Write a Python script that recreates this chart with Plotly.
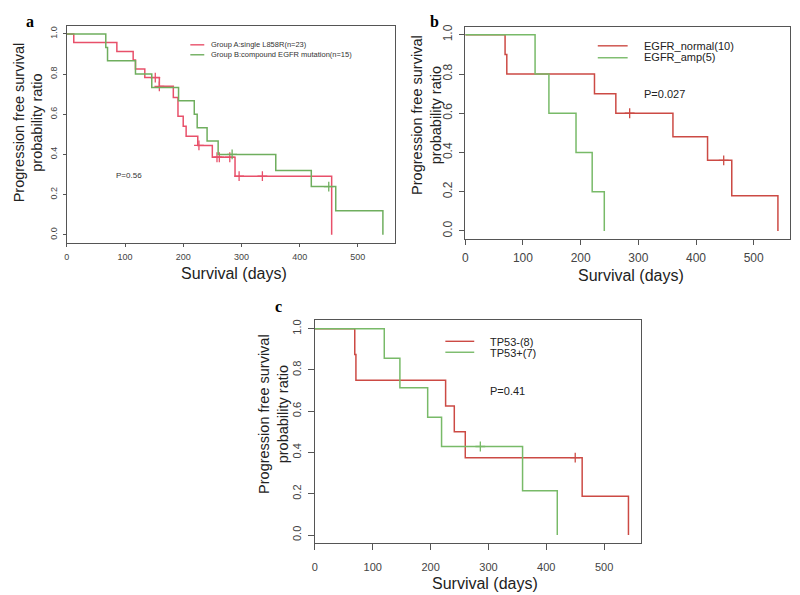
import plotly.graph_objects as go

# ---------------- data ----------------
x_ticks = [0, 100, 200, 300, 400, 500]
y_ticks = [0.0, 0.2, 0.4, 0.6, 0.8, 1.0]
y_ticktext = ["0.0", "0.2", "0.4", "0.6", "0.8", "1.0"]

# panel a
a_red_name = "Group A:single L858R(n=23)"
a_red_t = [0, 12, 86, 114, 118, 134, 159, 183, 191, 200, 205, 225, 250, 289, 455]
a_red_s = [1.0, 0.957, 0.913, 0.87, 0.826, 0.783, 0.739, 0.683, 0.59, 0.54, 0.49, 0.445, 0.386, 0.292, 0.0]
a_red_cens_t = [152, 159, 227, 258, 262, 280, 296, 336]
a_red_cens_s = [0.783, 0.739, 0.445, 0.386, 0.386, 0.386, 0.292, 0.292]

a_grn_name = "Group B:compound EGFR mutation(n=15)"
a_grn_t = [0, 67, 70, 118, 146, 192, 219, 224, 241, 260, 359, 420, 462, 543]
a_grn_s = [1.0, 0.933, 0.867, 0.80, 0.733, 0.667, 0.60, 0.533, 0.467, 0.40, 0.32, 0.24, 0.12, 0.0]
a_grn_cens_t = [284, 450]
a_grn_cens_s = [0.40, 0.24]
a_p = "P=0.56"

# panel b
b_red_name = "EGFR_normal(10)"
b_red_t = [0, 69, 72, 224, 261, 360, 420, 462, 542]
b_red_s = [1.0, 0.9, 0.8, 0.7, 0.6, 0.48, 0.36, 0.18, 0.0]
b_red_cens_t = [285, 448]
b_red_cens_s = [0.6, 0.36]

b_grn_name = "EGFR_amp(5)"
b_grn_t = [0, 121, 145, 192, 220, 241]
b_grn_s = [1.0, 0.8, 0.6, 0.4, 0.2, 0.0]
b_p = "P=0.027"

# panel c
c_red_name = "TP53-(8)"
c_red_t = [0, 69, 71, 226, 241, 260, 462, 542]
c_red_s = [1.0, 0.875, 0.75, 0.625, 0.5, 0.375, 0.1875, 0.0]
c_red_cens_t = [450]
c_red_cens_s = [0.375]

c_grn_name = "TP53+(7)"
c_grn_t = [0, 120, 147, 195, 219, 359, 419]
c_grn_s = [1.0, 0.857, 0.714, 0.571, 0.429, 0.214, 0.0]
c_grn_cens_t = [286]
c_grn_cens_s = [0.429]
c_p = "P=0.41"

x_title = "Survival (days)"
y_title = "Progression free survival<br>probability ratio"

# ---------------- styling ----------------
# the page body has an 8px margin, so the figure is offset by 8px
OFF = 8
W, H = 800 - OFF, 595 - OFF
FONT = "Liberation Sans, Arial, sans-serif"
RED_A, GRN_A = "#e8506a", "#6fae5e"
RED_B, GRN_B = "#cc4a44", "#78ba68"

def px(x):
    return (x - OFF) / W

def py(y):
    return 1 - (y - OFF) / H

fig = go.Figure()

def add_km(t, s, ct, cs, color, xa, ya):
    fig.add_trace(go.Scatter(x=t, y=s, mode="lines", line=dict(color=color, width=1.5, shape="hv"),
                             xaxis=xa, yaxis=ya, showlegend=False, hoverinfo="skip"))
    if ct:
        fig.add_trace(go.Scatter(x=ct, y=cs, mode="markers",
                                 marker=dict(symbol="cross-thin-open", size=7, color=color,
                                             line=dict(color=color, width=1.3)),
                                 xaxis=xa, yaxis=ya, showlegend=False, hoverinfo="skip"))

add_km(a_red_t, a_red_s, a_red_cens_t, a_red_cens_s, RED_A, "x", "y")
add_km(a_grn_t, a_grn_s, a_grn_cens_t, a_grn_cens_s, GRN_A, "x", "y")
add_km(b_red_t, b_red_s, b_red_cens_t, b_red_cens_s, RED_B, "x2", "y2")
add_km(b_grn_t, b_grn_s, [], [], GRN_B, "x2", "y2")
add_km(c_red_t, c_red_s, c_red_cens_t, c_red_cens_s, RED_B, "x3", "y3")
add_km(c_grn_t, c_grn_s, c_grn_cens_t, c_grn_cens_s, GRN_B, "x3", "y3")

# panel boxes (page pixels): left, right, top, bottom
boxes = {
    "a": (64, 393, 23, 241),
    "b": (464, 790, 24, 237),
    "c": (313, 640, 319, 543),
}
tick_sizes = {"a": 9, "b": 12, "c": 11}
tick_lens = {"a": 3, "b": 5, "c": 6}
x_standoff = {"a": 2, "b": 3, "c": 7}
names = {"a": ("xaxis", "yaxis", "y", "x"), "b": ("xaxis2", "yaxis2", "y2", "x2"), "c": ("xaxis3", "yaxis3", "y3", "x3")}

layout_axes = {}
for k, (l, r, t, b) in boxes.items():
    xa, ya, yanchor, xanchor = names[k]
    common = dict(showline=True, mirror=True, linecolor="#555", linewidth=1.2, showgrid=False,
                  zeroline=False, ticks="outside", ticklen=tick_lens[k], tickcolor="#555", tickwidth=1,
                  tickfont=dict(family=FONT, size=tick_sizes[k], color="#444"))
    layout_axes[xa] = dict(common, domain=[px(l), px(r)], range=[0, 563], tickvals=x_ticks,
                           anchor=yanchor, ticklabelstandoff=x_standoff[k])
    layout_axes[ya] = dict(common, domain=[py(b), py(t)], range=[-0.04, 1.04], tickvals=y_ticks,
                           ticktext=y_ticktext, tickangle=-90, anchor=xanchor, ticklabelstandoff=2)

fig.update_layout(**layout_axes)

ann = []
def text(x, y, s, size, xanchor="center", angle=0, family=FONT, color="#222", bold=False):
    ann.append(dict(x=px(x), y=py(y), xref="paper", yref="paper", text=("<b>%s</b>" % s) if bold else s,
                    showarrow=False, xanchor=xanchor, yanchor="middle", textangle=angle,
                    font=dict(family=family, size=size, color=color)))

SERIF = "Liberation Serif, Times New Roman, serif"
# panel labels
text(27, 19, "a", 16, family=SERIF, color="#000", bold=True)
text(433, 19, "b", 16, family=SERIF, color="#000", bold=True)
text(277, 305, "c", 16, family=SERIF, color="#000", bold=True)

# axis titles
text(25, 120, y_title, 14.5, angle=-90)
text(425, 112, y_title, 14.5, angle=-90)
text(272, 413, y_title, 14.5, angle=-90)
text(232, 272, x_title, 16)
text(630, 274, x_title, 16)
text(484, 583, x_title, 16)

# p-values
text(111, 173, a_p, 8, xanchor="left", color="#333")
text(641, 91, b_p, 11, xanchor="left", color="#222")
text(487, 390, c_p, 11, xanchor="left", color="#222")

# legends
shapes = []
def legend_line(x0, x1, y, color):
    shapes.append(dict(type="line", xref="paper", yref="paper", x0=px(x0), x1=px(x1), y0=py(y), y1=py(y),
                       line=dict(color=color, width=1.4)))

legend_line(188, 202, 42, RED_A)
legend_line(188, 202, 52, GRN_A)
text(207, 42, a_red_name, 7.5, xanchor="left", color="#333")
text(207, 52, a_grn_name, 7.5, xanchor="left", color="#333")

legend_line(597, 627, 43, RED_B)
legend_line(597, 627, 55, GRN_B)
text(641, 43, b_red_name, 11, xanchor="left")
text(641, 54, b_grn_name, 11, xanchor="left")

legend_line(444, 473, 340, RED_B)
legend_line(444, 473, 351, GRN_B)
text(487, 341, c_red_name, 11, xanchor="left")
text(487, 352, c_grn_name, 11, xanchor="left")

fig.update_layout(width=W, height=H, margin=dict(l=0, r=0, t=0, b=0), paper_bgcolor="white",
                  plot_bgcolor="white", annotations=ann, shapes=shapes, showlegend=False)

fig.write_html("out.html")
